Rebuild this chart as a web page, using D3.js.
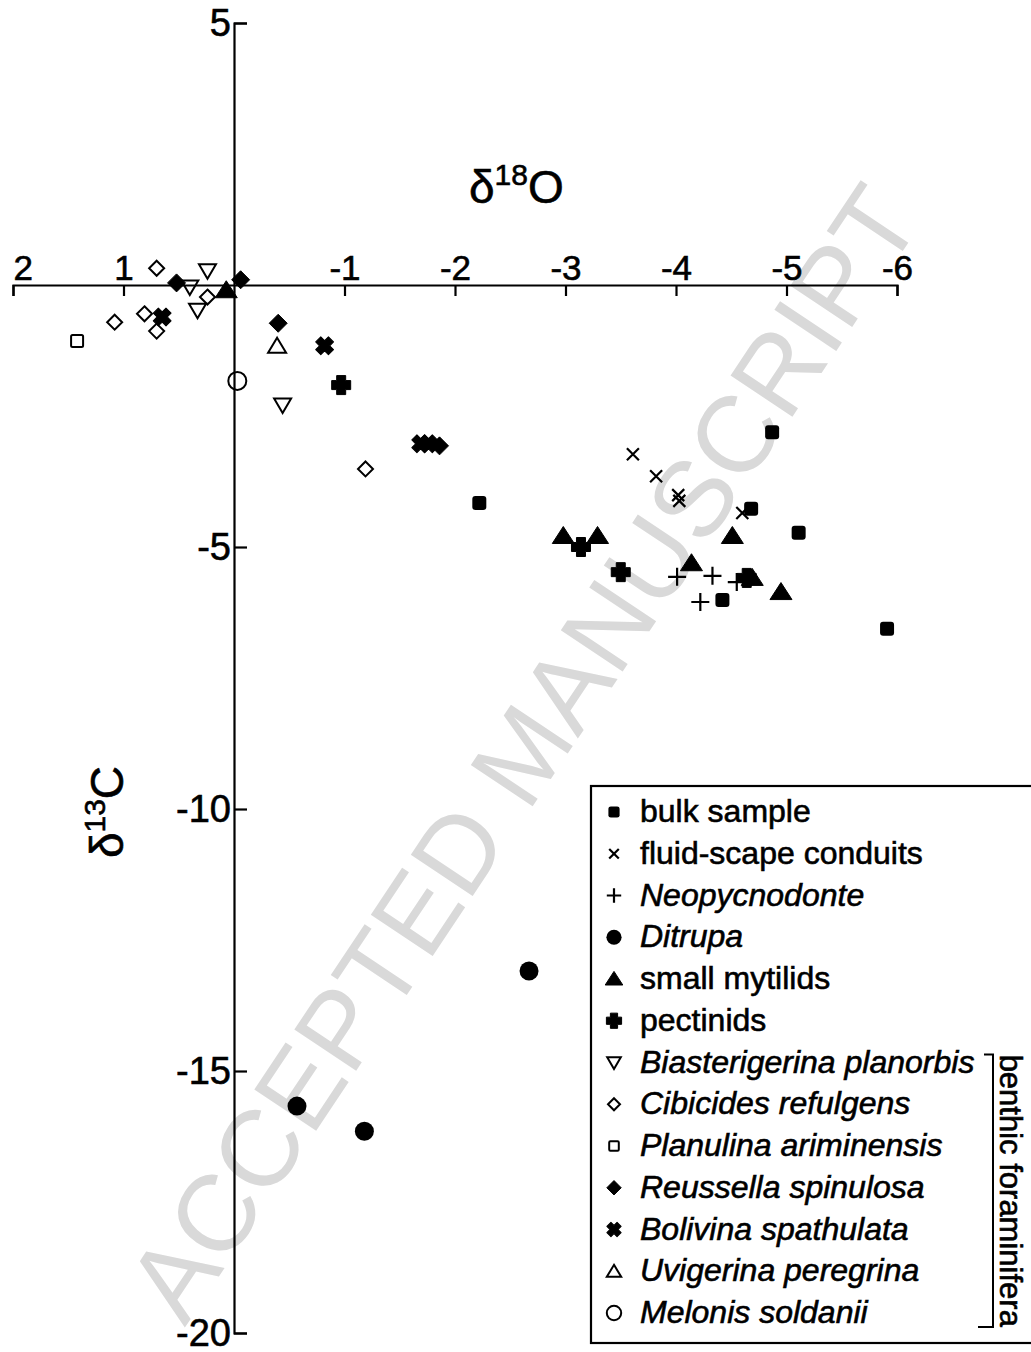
<!DOCTYPE html>
<html>
<head>
<meta charset="utf-8">
<script src="https://cdn.jsdelivr.net/npm/d3@7"></script>
<style>
  html, body { margin: 0; padding: 0; background: #fff; }
  svg { display: block; font-family: "Liberation Sans", Arial, sans-serif; }
  .ink { fill: #000; stroke: #000; stroke-width: 0.6px; }
</style>
</head>
<body>
<svg id="chart" width="1031" height="1352"></svg>
<script>
// ---- data (δ18O, δ13C) ----
const bulkSample     = [[-2.22,-4.16],[-4.87,-2.81],[-4.68,-4.27],[-5.11,-4.73],[-4.42,-6.01],[-5.91,-6.56]];
const fluidConduits  = [[-3.61,-3.23],[-3.82,-3.65],[-4.02,-4.01],[-4.03,-4.12],[-4.60,-4.35]];
const neopycnodonte  = [[-4.01,-5.57],[-4.33,-5.55],[-4.55,-5.67],[-4.22,-6.05]];
const ditrupa        = [[-2.67,-13.09],[-0.57,-15.67],[-1.18,-16.15]];
const smallMytilids  = [[0.07,-0.10],[-2.98,-4.79],[-3.29,-4.79],[-4.51,-4.79],[-4.14,-5.31],[-4.69,-5.59],[-4.95,-5.86]];
const pectinids      = [[-0.97,-1.91],[-3.14,-5.00],[-3.50,-5.48],[-4.64,-5.59]];
const biasterigerina = [[0.24,0.27],[0.40,-0.04],[0.33,-0.48],[-0.44,-2.29]];
const cibicides      = [[0.70,0.32],[0.24,-0.23],[0.81,-0.55],[1.08,-0.71],[0.70,-0.88],[-1.19,-3.51]];
const planulina      = [[1.42,-1.07]];
const reussella      = [[0.52,0.04],[-0.06,0.10],[-0.40,-0.73],[-1.86,-3.07]];
const bolivina       = [[0.65,-0.61],[-0.82,-1.16],[-1.69,-3.03],[-1.76,-3.03]];
const uvigerina      = [[-0.39,-1.16]];
const melonis        = [[-0.03,-1.83]];

const legendLabels = ["bulk sample","fluid-scape conduits","Neopycnodonte","Ditrupa","small mytilids","pectinids",
  "Biasterigerina planorbis","Cibicides refulgens","Planulina ariminensis","Reussella spinulosa",
  "Bolivina spathulata","Uvigerina peregrina","Melonis soldanii"];
const italicLabels = ["Neopycnodonte","Ditrupa","Biasterigerina planorbis","Cibicides refulgens",
  "Planulina ariminensis","Reussella spinulosa","Bolivina spathulata","Uvigerina peregrina","Melonis soldanii"];
const xTicks = [2,1,-1,-2,-3,-4,-5,-6];
const yTicks = [5,-5,-10,-15,-20];
const xDomain = [2,-6];
const yDomain = [5,-20];
const xTitle = ["δ","18","O"];
const yTitle = ["δ","13","C"];
const groupLabel = "benthic foraminifera";
const watermark = "ACCEPTED MANUSCRIPT";

// ---- series / marker styles ----
const series = [
  {data: bulkSample, m: "bulk"},
  {data: fluidConduits, m: "xcross"},
  {data: neopycnodonte, m: "plus"},
  {data: ditrupa, m: "dot"},
  {data: smallMytilids, m: "tri"},
  {data: pectinids, m: "pect"},
  {data: biasterigerina, m: "invtri"},
  {data: cibicides, m: "odiam"},
  {data: planulina, m: "osq"},
  {data: reussella, m: "fdiam"},
  {data: bolivina, m: "fx"},
  {data: uvigerina, m: "otri"},
  {data: melonis, m: "ocirc"}
];
series.forEach((s, i) => s.label = legendLabels[i]);

function drawMarker(g, type, k) {
  k = k || 1;
  const P = (d) => g.append("path").attr("d", d);
  switch (type) {
    case "bulk":
      g.append("rect").attr("x", -7*k).attr("y", -7*k).attr("width", 14*k).attr("height", 14*k)
        .attr("rx", 3*k).attr("fill", "#000"); break;
    case "xcross":
      P(`M${-6*k},${-6*k}L${6*k},${6*k}M${6*k},${-6*k}L${-6*k},${6*k}`).attr("stroke","#000").attr("stroke-width",2.2).attr("fill","none"); break;
    case "plus":
      P(`M${-9*k},0H${9*k}M0,${-9*k}V${9*k}`).attr("stroke","#000").attr("stroke-width",2.2).attr("fill","none"); break;
    case "dot":
      g.append("circle").attr("r", 9.5*k).attr("fill","#000"); break;
    case "tri":
      P(`M0,${-9.5*k}L${11*k},${7.5*k}L${-11*k},${7.5*k}Z`).attr("fill","#000").attr("stroke","#000").attr("stroke-width",1).attr("stroke-linejoin","round"); break;
    case "pect": {
      const a = 4.5*k, b = 9.5*k;
      P(`M${-a},${-b}H${a}V${-a}H${b}V${a}H${a}V${b}H${-a}V${a}H${-b}V${-a}H${-a}Z`).attr("fill","#000").attr("stroke","#000").attr("stroke-width",1).attr("stroke-linejoin","round"); break;
    }
    case "invtri":
      P(`M${-8.5*k},${-6.5*k}H${8.5*k}L0,${8*k}Z`).attr("fill","none").attr("stroke","#000").attr("stroke-width",2); break;
    case "odiam":
      P(`M0,${-7.5*k}L${7.5*k},0L0,${7.5*k}L${-7.5*k},0Z`).attr("fill","none").attr("stroke","#000").attr("stroke-width",2); break;
    case "osq":
      g.append("rect").attr("x", -6*k).attr("y", -6*k).attr("width", 12*k).attr("height", 12*k)
        .attr("rx", 1.5*k).attr("fill","none").attr("stroke","#000").attr("stroke-width",2); break;
    case "fdiam":
      P(`M0,${-9*k}L${9*k},0L0,${9*k}L${-9*k},0Z`).attr("fill","#000").attr("stroke","#000").attr("stroke-width",1).attr("stroke-linejoin","round"); break;
    case "fx": {
      const a = 3.6*k, b = 9*k;
      P(`M${-a},${-b}H${a}V${-a}H${b}V${a}H${a}V${b}H${-a}V${a}H${-b}V${-a}H${-a}Z`).attr("transform","rotate(45)")
        .attr("fill","#000").attr("stroke","#000").attr("stroke-width",1).attr("stroke-linejoin","round"); break;
    }
    case "otri":
      P(`M0,${-8*k}L${9*k},${7*k}L${-9*k},${7*k}Z`).attr("fill","none").attr("stroke","#000").attr("stroke-width",2); break;
    case "ocirc":
      g.append("circle").attr("r", 9*k).attr("fill","none").attr("stroke","#000").attr("stroke-width",2); break;
  }
}

const svg = d3.select("#chart");
const x = d3.scaleLinear().domain(xDomain).range([13, 897]);
const y = d3.scaleLinear().domain(yDomain).range([23, 1333]);
const fmt = (d) => String(d);   // plain hyphen-minus like the original

// watermark (behind everything)
svg.append("text")
  .attr("transform", "translate(522,752) rotate(-56.3)")
  .attr("text-anchor", "middle").attr("dy", "0.36em")
  .attr("font-size", 108).attr("fill", "#d9d9d9")
  .text(watermark);

// x axis (through δ13C = 0)
const xAxis = svg.append("g").attr("transform", `translate(0,${y(0)})`)
  .call(d3.axisBottom(x).tickValues(xTicks).tickFormat(fmt).tickSizeInner(11).tickSizeOuter(11));
xAxis.selectAll("path,line").attr("stroke", "#000").attr("stroke-width", 2.2);
xAxis.selectAll("text").attr("class", "ink").attr("y", -5).attr("dy", 0).attr("font-size", 35)
  .attr("font-family", "Liberation Sans, Arial, sans-serif")
  .attr("text-anchor", (d) => d === xTicks[0] ? "start" : "middle");

// y axis (through δ18O = 0)
const yAxis = svg.append("g").attr("transform", `translate(${x(0)},0)`)
  .call(d3.axisLeft(y).tickValues(yTicks).tickFormat(fmt).tickSizeInner(-13).tickSizeOuter(-13).tickPadding(3));
yAxis.selectAll("path,line").attr("stroke", "#000").attr("stroke-width", 2.2);
yAxis.selectAll("text").attr("class", "ink").attr("font-size", 38)
  .attr("font-family", "Liberation Sans, Arial, sans-serif").attr("dy", "0.33em");

// axis titles
const xt = svg.append("text").attr("class", "ink").attr("x", 469).attr("y", 203).attr("font-size", 46);
xt.append("tspan").text(xTitle[0]);
xt.append("tspan").attr("font-size", 30).attr("dy", -18).text(xTitle[1]);
xt.append("tspan").attr("dy", 18).text(xTitle[2]);

const yt = svg.append("text").attr("class", "ink").attr("transform", "translate(123,812) rotate(-90)")
  .attr("text-anchor", "middle").attr("font-size", 46);
yt.append("tspan").text(yTitle[0]);
yt.append("tspan").attr("font-size", 30).attr("dy", -18).text(yTitle[1]);
yt.append("tspan").attr("dy", 18).text(yTitle[2]);

// points
series.forEach((s) => {
  svg.append("g").selectAll("g").data(s.data).join("g")
    .attr("transform", (d) => `translate(${x(d[0])},${y(d[1])})`)
    .each(function () { drawMarker(d3.select(this), s.m, 1); });
});

// legend
const lg = svg.append("g");
lg.append("rect").attr("x", 591).attr("y", 786).attr("width", 460).attr("height", 557)
  .attr("fill", "#fff").attr("stroke", "#000").attr("stroke-width", 2.2);
const row = d3.scalePoint().domain(legendLabels).range([812, 1313]);
series.forEach((s) => {
  const gy = row(s.label);
  const mg = lg.append("g").attr("transform", `translate(614,${gy})`);
  drawMarker(mg, s.m, 0.8);
  lg.append("text").attr("class", "ink").attr("x", 640).attr("y", gy + 10).attr("font-size", 32)
    .attr("font-style", italicLabels.includes(s.label) ? "italic" : "normal")
    .text(s.label);
});
// bracket for benthic foraminifera
const yb0 = row(legendLabels[6]) - 8, yb1 = row(legendLabels[12]) + 14;
lg.append("path").attr("d", `M984,${yb0}H993V${yb1}H978`).attr("fill", "none").attr("stroke", "#000").attr("stroke-width", 2);
lg.append("text").attr("class", "ink").attr("transform", `translate(1000,${(yb0 + yb1) / 2}) rotate(90)`)
  .attr("text-anchor", "middle").attr("font-size", 31).text(groupLabel);
</script>
</body>
</html>
